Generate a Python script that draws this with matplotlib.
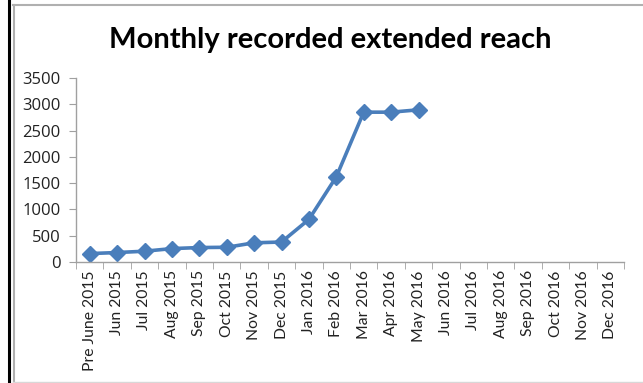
import matplotlib
matplotlib.use("Agg")
import matplotlib.pyplot as plt
from matplotlib.lines import Line2D
import numpy as np

months = ["Pre June 2015", "Jun 2015", "Jul 2015", "Aug 2015", "Sep 2015",
          "Oct 2015", "Nov 2015", "Dec 2015", "Jan 2016", "Feb 2016",
          "Mar 2016", "Apr 2016", "May 2016", "Jun 2016", "Jul 2016",
          "Aug 2016", "Sep 2016", "Oct 2016", "Nov 2016", "Dec 2016"]
reach = [160, 180, 205, 255, 275, 280, 365, 380, 810, 1620,
         2850, 2850, 2895]
yticks = [0, 500, 1000, 1500, 2000, 2500, 3000, 3500]

W, H = 643, 383
plt.rcParams['font.family'] = ['Lato', 'DejaVu Sans']

fig = plt.figure(figsize=(W / 100, H / 100), dpi=100)
ax = fig.add_axes([76 / W, (H - 262) / H, (624 - 76) / W, (262 - 78) / H])

x = np.arange(len(reach))
ax.plot(x, reach, color="#4a7ebb", lw=2.6, marker="D", markersize=8,
        markeredgecolor="#4a7ebb")

ax.set_xlim(-0.5, len(months) - 0.5)
ax.set_ylim(0, 3500)
ax.set_yticks(yticks)
ax.set_yticklabels([str(v) for v in yticks])
ax.set_xticks(np.arange(len(months)))
ax.set_xticklabels(months, rotation=90, fontsize=11.3, color="#222222")
ax.set_xticks(np.arange(len(months) + 1) - 0.5, minor=True)
ax.tick_params(axis="x", which="major", length=0, pad=6)
ax.tick_params(axis="x", which="minor", length=5, color="#a0a0a0", direction="out")
ax.tick_params(axis="y", length=5, color="#a0a0a0", pad=6,
               labelsize=12, labelcolor="#222222")
for lab in ax.get_yticklabels():
    lab.set_fontfamily(["Open Sans", "DejaVu Sans"])

for s in ("top", "right"):
    ax.spines[s].set_visible(False)
for s in ("left", "bottom"):
    ax.spines[s].set_color("#a0a0a0")
    ax.spines[s].set_linewidth(1.0)

fig.text(330 / W, 1 - 40 / H, "Monthly recorded extended reach",
         ha="center", va="center", fontsize=21, fontweight="bold")

# page edge and chart frame
def px_line(xs, ys, **kw):
    fig.add_artist(Line2D([v / W for v in xs], [1 - v / H for v in ys],
                          transform=fig.transFigure, **kw))

px_line([9, 9], [0, H], color="black", lw=2.2)
px_line([13.5, 13.5], [5, H], color="#b0b0b0", lw=1.5)
px_line([13, W], [5, 5], color="#b0b0b0", lw=1.5)
px_line([13, W], [382, 382], color="#d8d8d8", lw=1)

fig.savefig("out.png", dpi=100)
